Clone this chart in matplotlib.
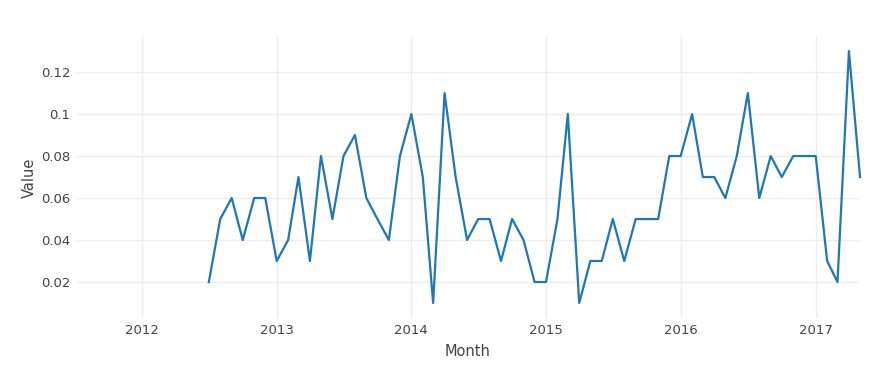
import numpy as np
import pandas as pd
import matplotlib
matplotlib.use('Agg')
import matplotlib.pyplot as plt
import matplotlib.dates as mdates

# 월별 값 (2012-07 ~ 2017-05)
months = pd.date_range('2012-07-01', '2017-05-01', freq='MS')
values = [
    0.02, 0.05, 0.06, 0.04, 0.06, 0.06,                                # 2012
    0.03, 0.04, 0.07, 0.03, 0.08, 0.05, 0.08, 0.09, 0.06, 0.05, 0.04, 0.08,  # 2013
    0.10, 0.07, 0.01, 0.11, 0.07, 0.04, 0.05, 0.05, 0.03, 0.05, 0.04, 0.02,  # 2014
    0.02, 0.05, 0.10, 0.01, 0.03, 0.03, 0.05, 0.03, 0.05, 0.05, 0.05, 0.08,  # 2015
    0.08, 0.10, 0.07, 0.07, 0.06, 0.08, 0.11, 0.06, 0.08, 0.07, 0.08, 0.08,  # 2016
    0.08, 0.03, 0.02, 0.13, 0.07,                                      # 2017
]
y_ticks = [0.02, 0.04, 0.06, 0.08, 0.10, 0.12]
y_tick_labels = ['0.02', '0.04', '0.06', '0.08', '0.1', '0.12']
x_years = [2012, 2013, 2014, 2015, 2016, 2017]

fig = plt.figure(figsize=(8.85, 3.7), dpi=100)
fig.patch.set_facecolor('white')
ax = fig.add_axes([76 / 885, 52 / 370, 784 / 885, 281 / 370])

ax.plot(months, values, color='#1f77b4', lw=1.6, zorder=3, clip_on=False)

ax.set_xlim(pd.Timestamp('2011-07-07'), pd.Timestamp('2017-05-01'))
ax.set_ylim(0.00286, 0.1367)

ax.set_xticks([pd.Timestamp(f'{y}-01-01') for y in x_years])
ax.set_xticklabels([str(y) for y in x_years])
ax.set_yticks(y_ticks)
ax.set_yticklabels(y_tick_labels)

ax.grid(True, color='#eeeeee', lw=1, zorder=0)
for s in ax.spines.values():
    s.set_visible(False)
ax.tick_params(length=0, labelsize=9.5, labelcolor='#444444', pad=4)

ax.set_xlabel('Month', fontsize=10.5, color='#444444', labelpad=5)
ax.set_ylabel('Value', fontsize=10.5, color='#444444', labelpad=3)

plt.savefig('out.png', dpi=100, facecolor='white')
